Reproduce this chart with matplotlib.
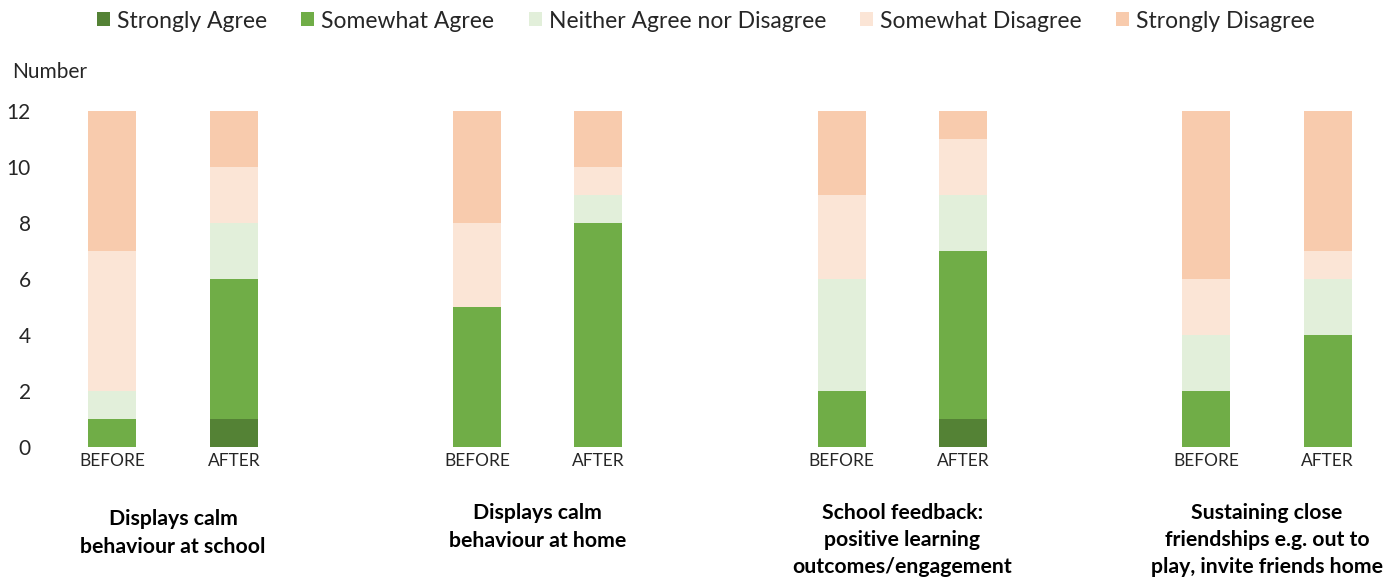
import matplotlib.pyplot as plt
import numpy as np

plt.rcParams['font.family'] = ['Lato', 'DejaVu Sans']

# survey answers, counted per question, before and after
questions = ["Displays calm\nbehaviour at school",
             "Displays calm\nbehaviour at home",
             "School feedback:\npositive learning\noutcomes/engagement",
             "Sustaining close\nfriendships e.g. out to\nplay, invite friends home"]
phases = ["BEFORE", "AFTER"]
answers = ["Strongly Agree", "Somewhat Agree", "Neither Agree nor Disagree",
           "Somewhat Disagree", "Strongly Disagree"]
colors = ["#548235", "#70AD47", "#E2EFDA", "#FBE5D6", "#F8CBAD"]

# one row per bar: q1 before, q1 after, q2 before, ...
strongly_agree    = [0, 1, 0, 0, 0, 1, 0, 0]
somewhat_agree    = [1, 5, 5, 8, 2, 6, 2, 4]
neither           = [1, 2, 0, 1, 4, 2, 2, 2]
somewhat_disagree = [5, 2, 3, 1, 3, 2, 2, 1]
strongly_disagree = [5, 2, 4, 2, 3, 1, 6, 5]

series = [strongly_agree, somewhat_agree, neither, somewhat_disagree, strongly_disagree]

fig = plt.figure(figsize=(14, 5.79), dpi=100)
ax = fig.add_axes([60 / 1400, 1 - 447 / 579, 1320 / 1400, 336 / 579])

xpos = np.array([g * 3 + p for g in range(len(questions)) for p in range(2)], dtype=float)
bottom = np.zeros(len(xpos))
for name, vals, col in zip(answers, series, colors):
    ax.bar(xpos, vals, width=0.395, bottom=bottom, color=col, label=name)
    bottom += np.array(vals)

ax.set_xlim(-0.43, 10.43)
ax.set_ylim(0, 12)
ax.set_yticks(range(0, 13, 2))
ax.set_xticks(xpos)
ax.set_xticklabels(phases * len(questions), fontsize=12.5, color="#262626")
ax.tick_params(axis='y', length=0, pad=21, labelsize=15, labelcolor="#262626")
ax.tick_params(axis='x', length=0, pad=4)
for s in ax.spines.values():
    s.set_visible(False)

# question titles under each pair of bars
title_y = [533, 527, 540, 540]
for g, (q, yp) in enumerate(zip(questions, title_y)):
    xc = (xpos[2 * g] + xpos[2 * g + 1]) / 2
    xf = ax.transData.transform((xc, 0))[0] / fig.bbox.width
    fig.text(xf, 1 - yp / 579, q, ha='center', va='center', fontsize=15.3,
             fontweight='bold', linespacing=1.45, color="black")

fig.text(12 / 1400, 1 - 72 / 579, "Number", ha='left', va='center',
         fontsize=15, color="#262626")

fig.legend(loc='center', bbox_to_anchor=(706 / 1400, 1 - 21 / 579), ncol=5,
           frameon=False, fontsize=16.5, handlelength=0.57, handleheight=0.57,
           handletextpad=0.3, columnspacing=1.5, labelcolor="#262626")

fig.savefig("out.png", dpi=100)
